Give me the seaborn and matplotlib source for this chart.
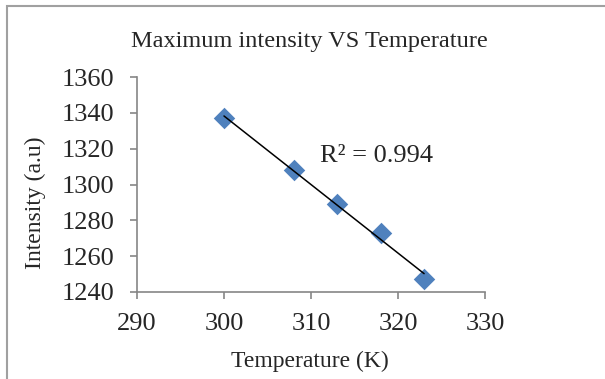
import numpy as np
import pandas as pd
import matplotlib
matplotlib.use("Agg")
import matplotlib.pyplot as plt
import seaborn as sns
from matplotlib.patches import Rectangle

# data
temperature = [300, 308, 313, 318, 323]
intensity = [1337, 1308, 1289, 1273, 1247]
x_ticks = [290, 300, 310, 320, 330]
y_ticks = [1240, 1260, 1280, 1300, 1320, 1340, 1360]

df = pd.DataFrame({"Temperature (K)": temperature, "Intensity (a.u)": intensity})

sns.set_style("white")
plt.rcParams['font.family'] = ['Liberation Serif', 'DejaVu Serif']

fig = plt.figure(figsize=(6.05, 3.79), dpi=100)
ax = fig.add_axes([137 / 605, 1 - 292 / 379, 348 / 605, 215 / 379])

# linear trendline (excel style)
sns.regplot(data=df, x="Temperature (K)", y="Intensity (a.u)", ax=ax, scatter=False,
            ci=None, truncate=True, line_kws={"color": "black", "lw": 1.1, "zorder": 3})
sns.scatterplot(data=df, x="Temperature (K)", y="Intensity (a.u)", ax=ax, marker="D",
                s=120, color="#4F81BD", edgecolor="#4F81BD", linewidth=0, zorder=2)

ax.set_xlim(290, 330)
ax.set_ylim(1240, 1360)
ax.set_xticks(x_ticks)
ax.set_yticks(y_ticks)
ax.tick_params(axis="both", labelsize=19, length=5, width=1.2, color="#868686",
               direction="out", bottom=True, left=True)
ax.tick_params(axis="x", pad=10)
ax.tick_params(axis="y", pad=11)
for side in ["top", "right"]:
    ax.spines[side].set_visible(False)
for side in ["left", "bottom"]:
    ax.spines[side].set_color("#868686")
    ax.spines[side].set_linewidth(1.2)

ax.set_xlabel("Temperature (K)", fontsize=17)
ax.set_ylabel("Intensity (a.u)", fontsize=17)
ax.xaxis.set_label_coords((310 - 137) / 348, -(361 - 292) / 215)
ax.yaxis.set_label_coords(-(137 - 35) / 348, (292 - 203) / 215)
ax.xaxis.label.set_va("center")
ax.yaxis.label.set_va("center")
ax.text(311.0, 1316, "R² = 0.994", fontsize=19, va="center", ha="left")

fig.text(309 / 605, 1 - 42 / 379, "Maximum intensity VS Temperature", fontsize=17.5,
         ha="center", va="center")

# chart area border
fig.patches.append(Rectangle((6.5 / 605, -0.1), 1.2, 1 - 6.5 / 379 + 0.1,
                             transform=fig.transFigure, fill=False,
                             edgecolor="#A0A0A0", lw=1.5))

fig.savefig("out.png", dpi=100)
